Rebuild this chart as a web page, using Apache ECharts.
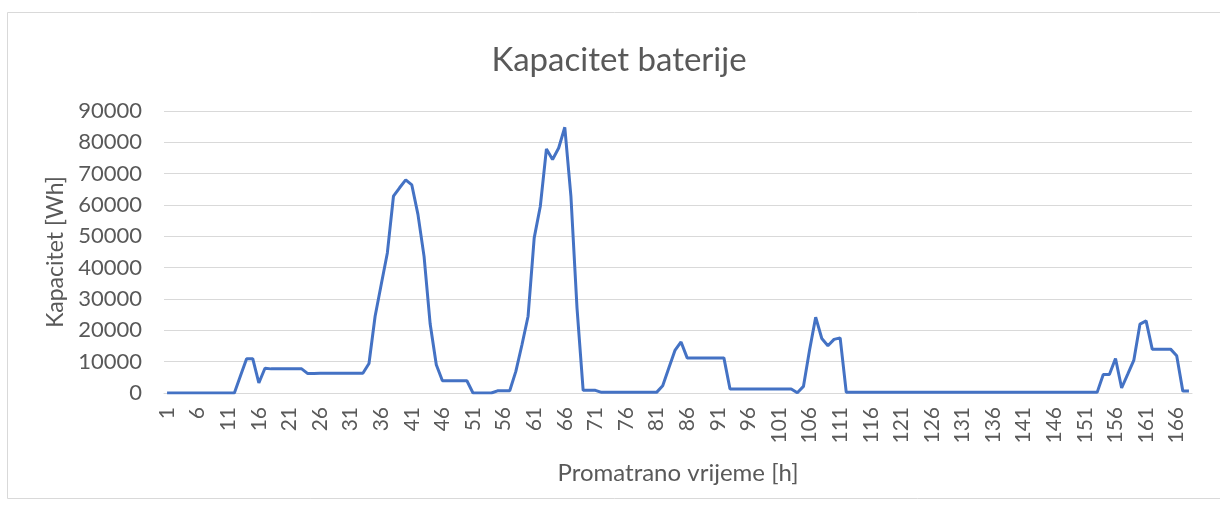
<!DOCTYPE html>
<html>
<head>
<meta charset="utf-8">
<script src="https://cdn.jsdelivr.net/npm/echarts@6/dist/echarts.min.js"></script>
<style>
html,body{margin:0;padding:0;background:#fff;}
#c{width:1220px;height:512px;}
</style>
</head>
<body>
<div id="c"></div>
<script>
const chartTitle = 'Kapacitet baterije';
const xAxisName = 'Promatrano vrijeme [h]';
const yAxisName = 'Kapacitet [Wh]';
const yTicks = [0, 10000, 20000, 30000, 40000, 50000, 60000, 70000, 80000, 90000];
const hours = [];
for (let h = 1; h <= 168; h++) hours.push(String(h));
const capacity = [
  0, 0, 0, 0, 0, 0, 0, 0, 0, 0,
  0, 0, 5500, 10950, 10950, 3200, 7900, 7700, 7700, 7700,
  7700, 7700, 7700, 6200, 6200, 6300, 6300, 6300, 6300, 6300,
  6300, 6300, 6300, 9400, 24500, 34600, 44700, 62800, 65500, 68000,
  66400, 57000, 43600, 22000, 9000, 3900, 3900, 3900, 3900, 3900,
  0, 0, 0, 0, 700, 700, 700, 6900, 15400, 24500,
  49500, 59600, 77900, 74500, 78200, 84800, 62800, 27000, 850, 850,
  850, 200, 200, 200, 200, 200, 200, 200, 200, 200,
  200, 2300, 8000, 13600, 16300, 11200, 11200, 11200, 11200, 11200,
  11200, 11200, 1300, 1300, 1300, 1300, 1300, 1300, 1300, 1300,
  1300, 1300, 1300, 100, 2100, 13700, 24200, 17400, 15100, 17100,
  17600, 200, 200, 200, 200, 200, 200, 200, 200, 200,
  200, 200, 200, 200, 200, 200, 200, 200, 200, 200,
  200, 200, 200, 200, 200, 200, 200, 200, 200, 200,
  200, 200, 200, 200, 200, 200, 200, 200, 200, 200,
  200, 200, 200, 5900, 5900, 11000, 1600, 6000, 10500, 22000,
  23000, 14000, 14000, 14000, 14000, 11900, 600, 600
];

const FONT = 'Lato, "Open Sans", sans-serif';
const TXT = '#595959';
const chart = echarts.init(document.getElementById('c'), null, {renderer: 'canvas'});
chart.setOption({
  animation: false,
  backgroundColor: '#fff',
  graphic: [{
    type: 'rect', shape: {x: 7.5, y: 12.5, width: 1230, height: 486},
    style: {fill: 'none', stroke: '#d9d9d9', lineWidth: 1}, silent: true
  }],
  title: {
    text: chartTitle, left: 614, top: 39, textAlign: 'center',
    textStyle: {fontFamily: FONT, fontSize: 33, fontWeight: 'normal', color: TXT}
  },
  grid: {left: 164, right: 28, top: 111, bottom: 119, containLabel: false},
  xAxis: {
    type: 'category', data: hours, boundaryGap: true,
    name: xAxisName, nameLocation: 'middle', nameGap: 68,
    nameTextStyle: {fontFamily: FONT, fontSize: 24, color: TXT},
    axisLine: {lineStyle: {color: '#d9d9d9', width: 1}},
    axisTick: {show: false},
    axisLabel: {interval: 4, rotate: 90, margin: 14, fontFamily: FONT, fontSize: 21, color: TXT}
  },
  yAxis: {
    type: 'value', min: 0, max: 90000, interval: 10000,
    name: yAxisName, nameLocation: 'middle', nameGap: 95, nameRotate: 90,
    nameTextStyle: {fontFamily: FONT, fontSize: 23, color: TXT},
    axisLine: {show: false}, axisTick: {show: false},
    axisLabel: {margin: 22, fontFamily: FONT, fontSize: 22, color: TXT,
      formatter: function (v) { return yTicks.indexOf(v) >= 0 ? String(v) : ''; }},
    splitLine: {lineStyle: {color: '#d9d9d9', width: 1}}
  },
  series: [{
    type: 'line', data: capacity, showSymbol: false, symbol: 'none',
    lineStyle: {color: '#4472C4', width: 3}, itemStyle: {color: '#4472C4'}
  }]
});
</script>
</body>
</html>
